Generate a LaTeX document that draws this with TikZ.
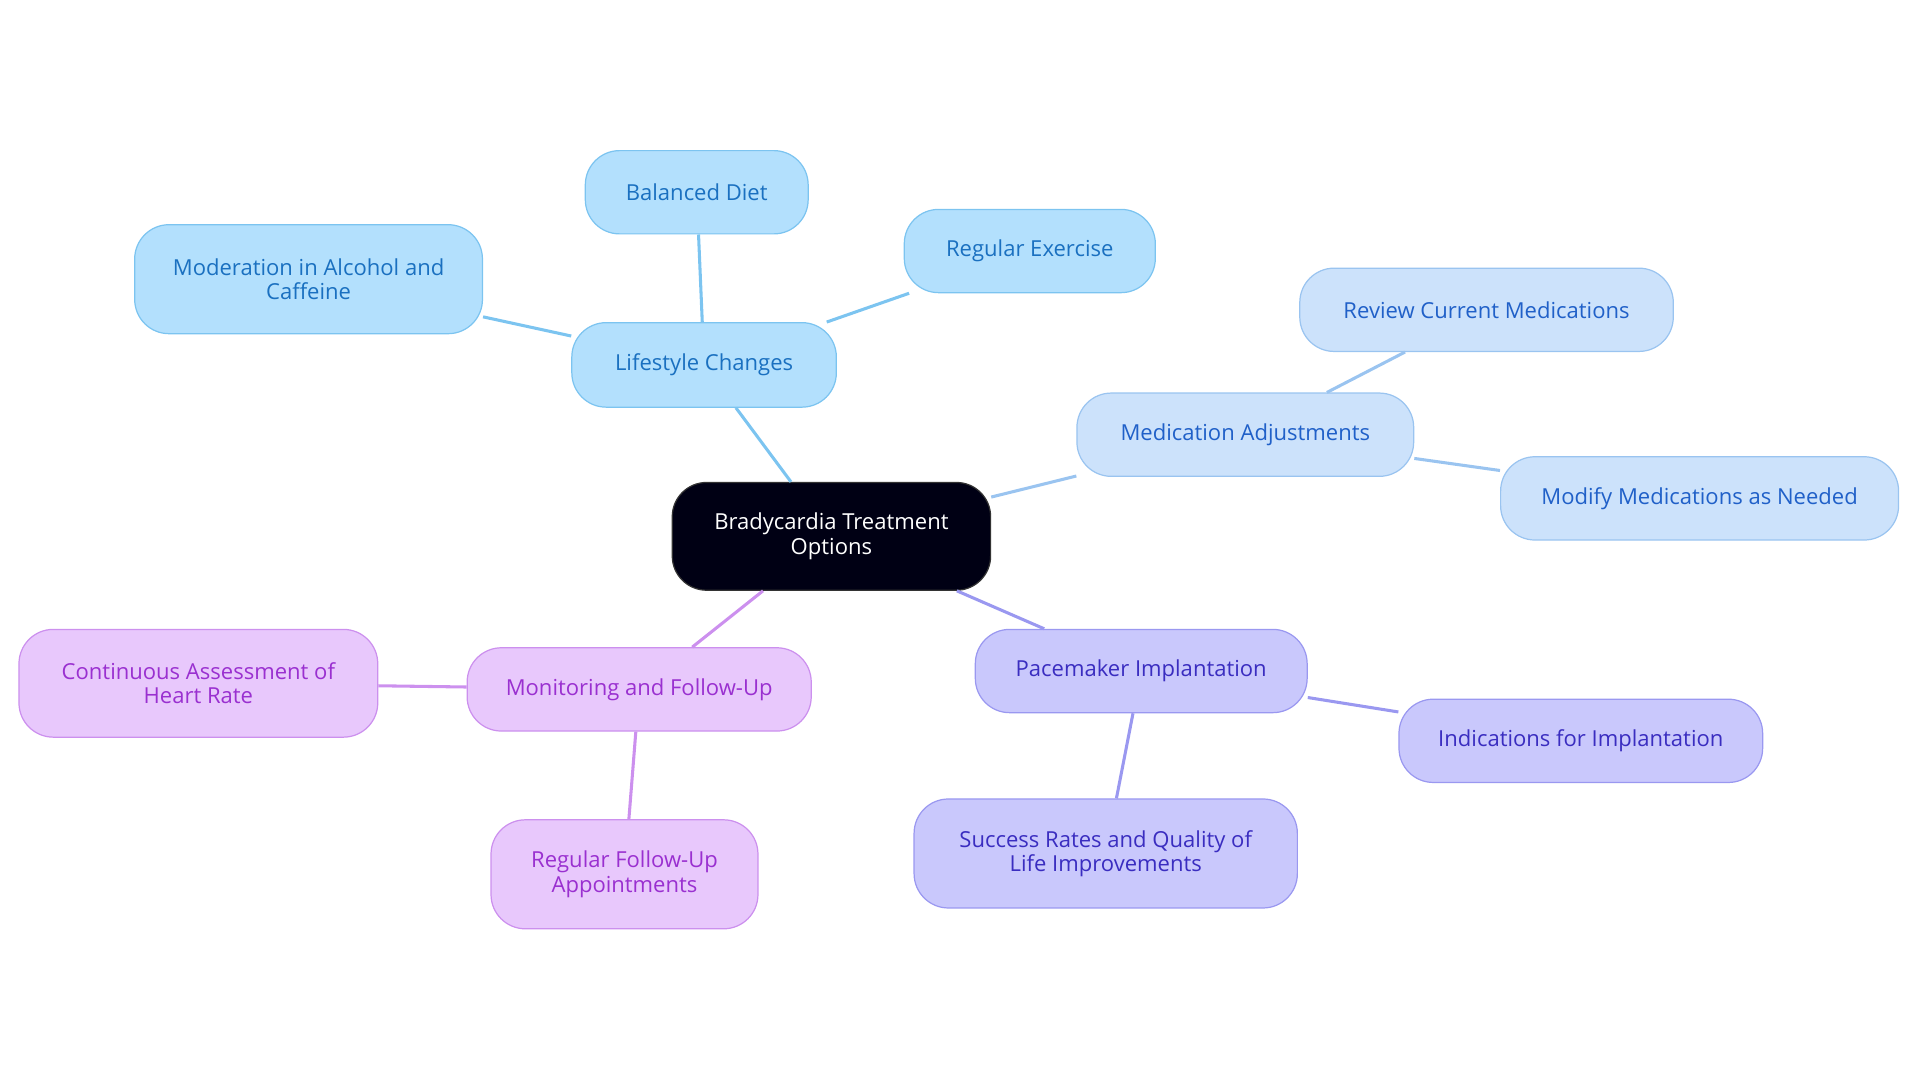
\documentclass[tikz,border=0pt]{standalone}
\usepackage{fontspec}
\setmainfont{Open Sans}
\begin{document}
\begin{tikzpicture}[x=1pt,y=-1pt,
  base/.style={draw,line width=1pt,rounded corners=28pt,align=center,inner sep=0pt,font=\fontsize{18}{20}\selectfont},
  cen/.style={base,fill=black!92!blue,draw=black!80,text=white},
  lc/.style={base,fill=lcf,draw=lcd,text=lct},
  ma/.style={base,fill=maf,draw=mad,text=mat},
  pm/.style={base,fill=pmf,draw=pmd,text=pmt},
  mo/.style={base,fill=mof,draw=mod,text=mot},
  ed/.style={line width=2.5pt}]
\definecolor{lcf}{HTML}{B3E0FD}\definecolor{lcd}{HTML}{7CC4F0}\definecolor{lct}{HTML}{1A70C0}
\definecolor{maf}{HTML}{CCE2FB}\definecolor{mad}{HTML}{9AC4F0}\definecolor{mat}{HTML}{2060C8}
\definecolor{pmf}{HTML}{C9C8FC}\definecolor{pmd}{HTML}{9A98F0}\definecolor{pmt}{HTML}{3A2DC0}
\definecolor{mof}{HTML}{E8C8FC}\definecolor{mod}{HTML}{CC90EE}\definecolor{mot}{HTML}{9A30D0}
\useasboundingbox (0,0) rectangle (1568,884);
\node[cen,minimum width=260,minimum height=88] (c) at (679,438) {Bradycardia Treatment\\Options};
\node[lc,minimum width=216,minimum height=69] (l) at (575,298) {Lifestyle Changes};
\node[lc,minimum width=182,minimum height=68] (l1) at (569,157) {Balanced Diet};
\node[lc,minimum width=205,minimum height=68] (l2) at (841,205) {Regular Exercise};
\node[lc,minimum width=284,minimum height=89] (l3) at (252,228) {Moderation in Alcohol and\\Caffeine};
\node[ma,minimum width=275,minimum height=68] (m) at (1017,355) {Medication Adjustments};
\node[ma,minimum width=305,minimum height=68] (m1) at (1214,253) {Review Current Medications};
\node[ma,minimum width=325,minimum height=68] (m2) at (1388,407) {Modify Medications as Needed};
\node[pm,minimum width=271,minimum height=68] (p) at (932,548) {Pacemaker Implantation};
\node[pm,minimum width=297,minimum height=68] (p1) at (1291,605) {Indications for Implantation};
\node[pm,minimum width=313,minimum height=89] (p2) at (903,697) {Success Rates and Quality of\\Life Improvements};
\node[mo,minimum width=281,minimum height=68] (o) at (522,563) {Monitoring and Follow-Up};
\node[mo,minimum width=293,minimum height=88] (o1) at (162,558) {Continuous Assessment of\\Heart Rate};
\node[mo,minimum width=218,minimum height=89] (o2) at (510,714) {Regular Follow-Up\\Appointments};
\begin{scope}[on background layer/.try]
\end{scope}
\draw[ed,lcd] (c) -- (l); \draw[ed,lcd] (l) -- (l1); \draw[ed,lcd] (l) -- (l2); \draw[ed,lcd] (l) -- (l3);
\draw[ed,mad] (c) -- (m); \draw[ed,mad] (m) -- (m1); \draw[ed,mad] (m) -- (m2);
\draw[ed,pmd] (c) -- (p); \draw[ed,pmd] (p) -- (p1); \draw[ed,pmd] (p) -- (p2);
\draw[ed,mod] (c) -- (o); \draw[ed,mod] (o) -- (o1); \draw[ed,mod] (o) -- (o2);
\end{tikzpicture}
\end{document}
